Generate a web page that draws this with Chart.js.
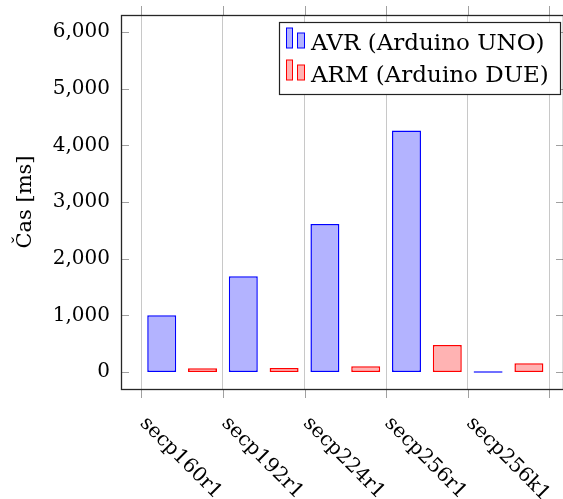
<!DOCTYPE html>
<html lang="cs">
<head>
<meta charset="UTF-8">
<title>Čas výpočtu</title>
<script src="https://cdn.jsdelivr.net/npm/chart.js@4"></script>
<style>
  html, body { margin: 0; padding: 0; background: #fff; }
  #wrap { position: relative; width: 563px; height: 499px; }
</style>
</head>
<body>
<div id="wrap"><canvas id="casChart" width="563" height="499"></canvas></div>
<script>
// data
const krivky = ['secp160r1', 'secp192r1', 'secp224r1', 'secp256r1', 'secp256k1'];
const avrCas = [1000, 1690, 2610, 4260, 0];
const armCas = [65, 70, 100, 476, 153];
const yTicks = [0, 1000, 2000, 3000, 4000, 5000, 6000];
const nazvy = ['AVR (Arduino UNO)', 'ARM (Arduino DUE)'];

const FONT = "'DejaVu Serif', 'Liberation Serif', serif";

// bars sit between grid lines, so put them at i + 0.5 on a linear axis
const toPoints = vals => vals.map((v, i) => ({ x: i + 0.5, y: v }));

// frame, tick marks, rotated x labels and the boxed legend
const ramecek = {
  id: 'ramecek',
  afterDraw(chart) {
    const ctx = chart.ctx;
    const a = chart.chartArea;
    const xs = chart.scales.x, ys = chart.scales.y;
    ctx.save();

    // x ticks above and below the frame
    ctx.strokeStyle = '#a0a0a0';
    ctx.lineWidth = 1;
    for (let i = 0; i <= krivky.length; i++) {
      const px = Math.round(xs.getPixelForValue(i)) + 0.5;
      ctx.beginPath();
      ctx.moveTo(px, a.top - 9); ctx.lineTo(px, a.top);
      ctx.moveTo(px, a.bottom); ctx.lineTo(px, a.bottom + 9);
      ctx.stroke();
    }
    // y ticks inside, both sides
    yTicks.forEach(v => {
      const py = Math.round(ys.getPixelForValue(v)) + 0.5;
      ctx.beginPath();
      ctx.moveTo(a.left, py); ctx.lineTo(a.left + 8, py);
      ctx.moveTo(a.right - 7, py); ctx.lineTo(a.right, py);
      ctx.stroke();
    });

    // frame
    ctx.strokeStyle = '#262626';
    ctx.lineWidth = 1.3;
    ctx.strokeRect(a.left + 0.5, a.top + 0.5, a.right - a.left, a.bottom - a.top);

    // x labels, rotated 45 deg going down to the right
    ctx.fillStyle = '#000';
    ctx.font = '20px ' + FONT;
    ctx.textAlign = 'left';
    ctx.textBaseline = 'alphabetic';
    krivky.forEach((k, i) => {
      const px = xs.getPixelForValue(i);
      ctx.save();
      ctx.translate(px - 2, a.bottom + 35);
      ctx.rotate(Math.PI / 4);
      ctx.fillText(k, 0, 0);
      ctx.restore();
    });

    // legend
    const L = { x: 279.5, y: 22.5, w: 281, h: 72 };
    ctx.fillStyle = '#fff';
    ctx.fillRect(L.x, L.y, L.w, L.h);
    ctx.strokeStyle = '#222';
    ctx.lineWidth = 1.2;
    ctx.strokeRect(L.x, L.y, L.w, L.h);
    ctx.font = '23px ' + FONT;
    chart.data.datasets.forEach((ds, i) => {
      const base = 48 + i * 32;
      ctx.fillStyle = ds.backgroundColor;
      ctx.strokeStyle = ds.borderColor;
      ctx.lineWidth = 1;
      ctx.fillRect(286.5, base - 20, 6, 20);
      ctx.strokeRect(286.5, base - 20, 6, 20);
      ctx.fillRect(297.5, base - 15, 7, 15);
      ctx.strokeRect(297.5, base - 15, 7, 15);
      ctx.fillStyle = '#000';
      ctx.fillText(ds.label, 311, base + 2);
    });
    ctx.restore();
  }
};

new Chart(document.getElementById('casChart'), {
  type: 'bar',
  data: {
    datasets: [
      {
        label: nazvy[0],
        data: toPoints(avrCas),
        backgroundColor: 'rgb(179,179,255)',
        borderColor: 'rgb(0,0,255)',
        borderWidth: 1.5,
        borderSkipped: false,
        minBarLength: 1.5
      },
      {
        label: nazvy[1],
        data: toPoints(armCas),
        backgroundColor: 'rgb(255,179,179)',
        borderColor: 'rgb(255,0,0)',
        borderWidth: 1.5,
        borderSkipped: false,
        minBarLength: 1.5
      }
    ]
  },
  options: {
    responsive: false,
    animation: false,
    events: [],
    categoryPercentage: 1.0,
    barPercentage: 0.71,
    layout: { padding: { top: 15, right: 0, bottom: 110, left: 0 } },
    plugins: {
      legend: { display: false },
      tooltip: { enabled: false }
    },
    scales: {
      x: {
        type: 'linear',
        offset: false,
        min: -0.249,
        max: 5.168,
        afterBuildTicks: s => { s.ticks = krivky.concat(['']).map((k, i) => ({ value: i })); },
        afterFit: s => { s.height = 0; s.paddingLeft = 0; s.paddingRight = 0; },
        ticks: { display: false },
        grid: { color: '#c8c8c8', lineWidth: 1, drawTicks: false, offset: false },
        border: { display: false }
      },
      y: {
        min: -300,
        max: 6300,
        afterBuildTicks: s => { s.ticks = yTicks.map(v => ({ value: v })); },
        afterFit: s => { s.width = 121; s.paddingTop = 0; s.paddingBottom = 0; },
        ticks: {
          color: '#000',
          padding: 11,
          font: { family: FONT, size: 20 },
          callback: v => v.toLocaleString('en-US')
        },
        grid: { display: false, drawTicks: false },
        border: { display: false },
        title: {
          display: true,
          text: 'Čas [ms]',
          color: '#000',
          font: { family: FONT, size: 21 },
          padding: { top: 13, bottom: 0 }
        }
      }
    }
  },
  plugins: [ramecek]
});
</script>
</body>
</html>
